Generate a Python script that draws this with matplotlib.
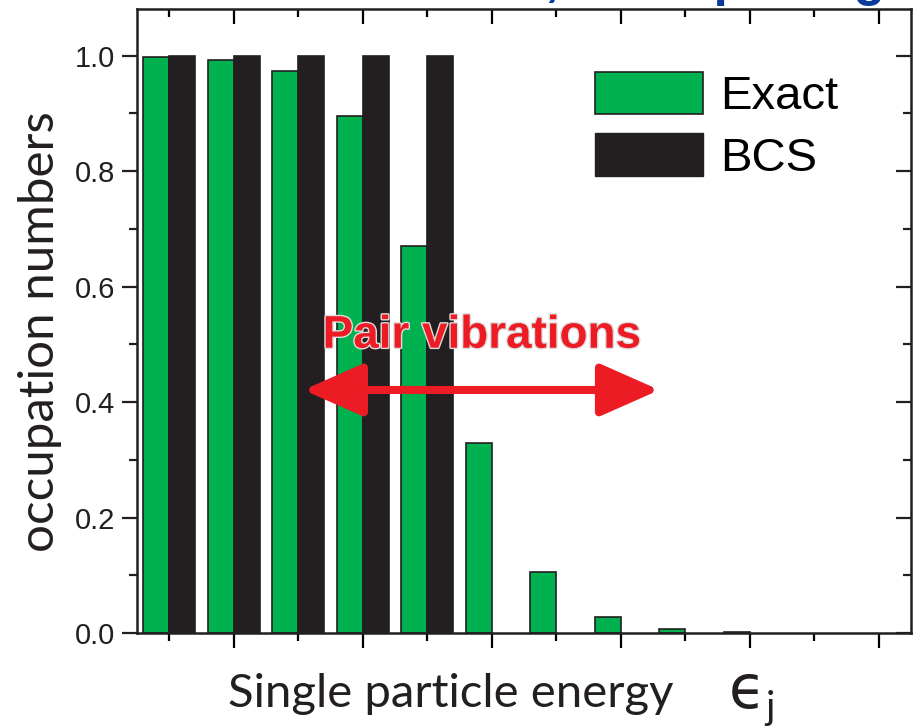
import matplotlib
matplotlib.use("Agg")
import matplotlib.pyplot as plt
import matplotlib.patheffects as pe
from matplotlib.patches import FancyArrowPatch, Patch
from matplotlib.ticker import MultipleLocator, FormatStrFormatter

levels = [1, 2, 3, 4, 5, 6, 7, 8, 9, 10]
exact = [0.998, 0.993, 0.973, 0.895, 0.671, 0.329, 0.105, 0.027, 0.007, 0.002]
bcs = [1.0, 1.0, 1.0, 1.0, 1.0, 0.0, 0.0, 0.0, 0.0, 0.0]
series_names = ["Exact", "BCS"]

GREEN = "#00B14F"
BLACK = "#231F20"
RED = "#ED1C24"
BLUE = "#0A3A9C"

plt.rcParams['font.family'] = ['Liberation Sans', 'DejaVu Sans']
LABEL_FONT = ['Lato', 'DejaVu Sans']

fig = plt.figure(figsize=(9.15, 7.28), dpi=100)
ax = fig.add_axes([137/915, 1-633/728, (911-137)/915, (633-9)/728])

w = 0.4
ax.bar([x - w/2 for x in levels], exact, width=w, color=GREEN, edgecolor=BLACK, linewidth=1.2, label=series_names[0], zorder=2)
bcs_x = [x + w/2 for x, v in zip(levels, bcs) if v > 0]
bcs_v = [v for v in bcs if v > 0]
ax.bar(bcs_x, bcs_v, width=w, color=BLACK, edgecolor=BLACK, linewidth=1.2, label=series_names[1], zorder=2)

ax.set_xlim(0.5, 12.5)
ax.set_ylim(0, 1.081)

ax.xaxis.set_major_locator(MultipleLocator(2))
ax.xaxis.set_minor_locator(MultipleLocator(1))
ax.yaxis.set_major_locator(MultipleLocator(0.2))
ax.yaxis.set_minor_locator(MultipleLocator(0.1))
ax.tick_params(axis='x', which='both', top=True, bottom=True, direction='out', labelbottom=False)
ax.tick_params(axis='y', which='both', right=True, left=True, direction='out', labelsize=21, colors=BLACK, pad=5)
ax.tick_params(which='major', length=11, width=1.6)
ax.tick_params(which='minor', length=6, width=1.6)
for t in ax.xaxis.get_major_ticks() + ax.xaxis.get_minor_ticks():
    t.tick2line.set_marker(3)  # inward at top
for t in ax.yaxis.get_major_ticks() + ax.yaxis.get_minor_ticks():
    t.tick2line.set_marker(0)  # inward at right
ax.yaxis.set_major_formatter(FormatStrFormatter('%.1f'))
for s in ax.spines.values():
    s.set_linewidth(1.8)
    s.set_color(BLACK)

fig.text(40/915, 1-332/728, "occupation numbers", family=LABEL_FONT, fontsize=35.5, color=BLACK,
         rotation=90, ha='center', va='center')
fig.text(228/915, 1-707/728, "Single particle energy", family=LABEL_FONT, fontsize=34, color=BLACK, va='baseline')
fig.text(729/915, 1-708/728, "\u03f5", family=['DejaVu Sans'], fontsize=43, color=BLACK, va='baseline')
fig.text(765/915, 1-719/728, "j", family=LABEL_FONT, fontsize=28, color=BLACK, va='baseline')

leg_handles = [Patch(facecolor=GREEN, edgecolor=BLACK, linewidth=1.2), Patch(facecolor=BLACK, edgecolor=BLACK)]
leg = ax.legend(leg_handles, series_names, loc='upper left', bbox_to_anchor=((595-137)/774, 1-(72-9)/624),
                frameon=False, fontsize=34, handlelength=2.29, handleheight=1.0, handletextpad=0.35, labelspacing=0.3,
                borderaxespad=0, borderpad=0)

arrow = FancyArrowPatch((3.08, 0.421), (8.6, 0.421), arrowstyle='<|-|>,head_length=2.6,head_width=1.15',
                        mutation_scale=14, color=RED, linewidth=5.8, zorder=5, shrinkA=0, shrinkB=0)
ax.add_patch(arrow)
ax.text(5.85, 0.515, "Pair vibrations", color=RED, fontsize=33, fontweight='bold', ha='center', va='center', zorder=6,
        path_effects=[pe.withStroke(linewidth=2, foreground='#dddddd')])

fig.text(885/915, 1+5/728, "Exact vs BCS, weak pairing", color=BLUE, fontsize=37, fontweight='bold', ha='right', va='baseline')

fig.savefig("out.png", dpi=100)
